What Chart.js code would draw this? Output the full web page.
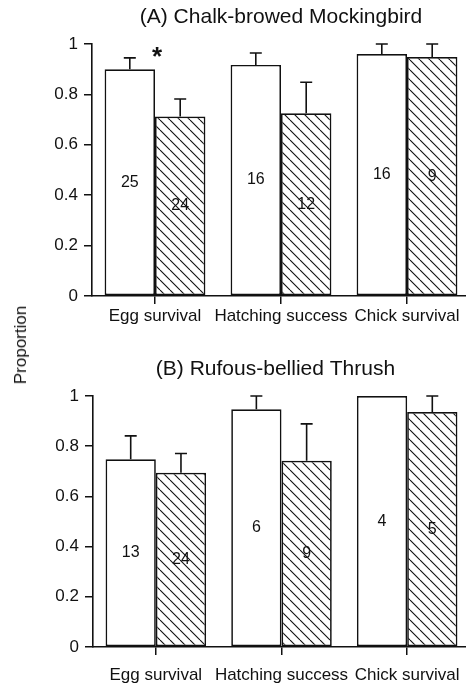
<!DOCTYPE html>
<html>
<head>
<meta charset="utf-8">
<script src="https://cdn.jsdelivr.net/npm/chart.js@4.4.1/dist/chart.umd.min.js"></script>
<style>
  html, body { margin: 0; padding: 0; background: #fff; }
  #wrap { position: relative; width: 466px; height: 686px; overflow: hidden; }
  canvas { position: absolute; left: 0; }
  #ylab {
    position: absolute; left: 21px; top: 345px;
    transform: translate(-50%, -50%) rotate(-90deg);
    font: 17px "Liberation Sans", Arial, sans-serif; color: #111; white-space: nowrap;
  }
</style>
</head>
<body>
<div id="wrap">
  <canvas id="chartA" width="470" height="330" style="top:0"></canvas>
  <canvas id="chartB" width="470" height="356" style="top:330px"></canvas>
  <div id="ylab">Proportion</div>
</div>
<script>
// categories and tick labels
const categories = ['Egg survival', 'Hatching success', 'Chick survival'];
const yTickLabels = ['0', '0.2', '0.4', '0.6', '0.8', '1'];

// (A) Chalk-browed Mockingbird
const titleA = '(A) Chalk-browed Mockingbird';
const mockOpen = [0.900, 0.917, 0.960];
const mockOpenErr = [0.945, 0.964, 1.000];
const mockOpenN = [25, 16, 16];
const mockHatch = [0.712, 0.725, 0.948];
const mockHatchErr = [0.782, 0.848, 1.000];
const mockHatchN = [24, 12, 9];
const mockSignif = ['*', '', ''];

// (B) Rufous-bellied Thrush
const titleB = '(B) Rufous-bellied Thrush';
const thrushOpen = [0.748, 0.947, 1.000];
const thrushOpenErr = [0.841, 1.000, 1.000];
const thrushOpenN = [13, 6, 4];
const thrushHatch = [0.694, 0.742, 0.936];
const thrushHatchErr = [0.771, 0.889, 1.000];
const thrushHatchN = [24, 9, 5];
const thrushSignif = ['', '', ''];

const FONT = '"Liberation Sans", Arial, sans-serif';

// diagonal hatch pattern ("\\\\")
function makeHatch() {
  const s = 10;
  const c = document.createElement('canvas');
  c.width = s; c.height = s;
  const g = c.getContext('2d');
  g.fillStyle = '#fff';
  g.fillRect(0, 0, s, s);
  g.strokeStyle = '#111';
  g.lineWidth = 1.1;
  g.beginPath();
  for (let k = -1; k <= 1; k++) {
    g.moveTo(k * s, 0);
    g.lineTo(k * s + s, s);
  }
  g.stroke();
  return g.createPattern(c, 'repeat');
}

// error bars, n labels, title and significance marks
const extrasPlugin = {
  id: 'extras',
  afterDatasetsDraw(chart) {
    const ctx = chart.ctx;
    const yScale = chart.scales.y;
    const xScale = chart.scales.x;
    const ex = chart.options.plugins.extras;
    ctx.save();
    chart.data.datasets.forEach((ds, di) => {
      const meta = chart.getDatasetMeta(di);
      meta.data.forEach((bar, i) => {
        const top = bar.y;
        const errY = yScale.getPixelForValue(ds.err[i]);
        if (ds.err[i] > ds.data[i]) {
          ctx.strokeStyle = '#111';
          ctx.lineWidth = 1.6;
          ctx.beginPath();
          ctx.moveTo(bar.x, top);
          ctx.lineTo(bar.x, errY);
          ctx.moveTo(bar.x - 6, errY);
          ctx.lineTo(bar.x + 6, errY);
          ctx.stroke();
        }
        // sample size in the middle of the bar
        ctx.fillStyle = '#111';
        ctx.font = '16px ' + FONT;
        ctx.textAlign = 'center';
        ctx.textBaseline = 'middle';
        ctx.fillText(String(ds.n[i]), bar.x, (top + bar.base) / 2);
      });
    });
    // significance marks
    ex.signif.forEach((s, i) => {
      if (!s) return;
      ctx.font = 'bold 26px ' + FONT;
      ctx.textAlign = 'center';
      ctx.textBaseline = 'alphabetic';
      ctx.fillText(s, xScale.getPixelForValue(i) + 2, yScale.getPixelForValue(0.97) + 13);
    });
    // panel title
    const ca = chart.chartArea;
    ctx.font = '21px ' + FONT;
    ctx.textAlign = 'center';
    ctx.textBaseline = 'middle';
    ctx.fillText(ex.title, (ca.left + ca.right) / 2 + ex.titleShift, ca.top - 27);
    ctx.restore();
  }
};

function makePanel(id, title, open, openErr, openN, hatch, hatchErr, hatchN, signif, cfg) {
  return new Chart(document.getElementById(id), {
    type: 'bar',
    data: {
      labels: categories,
      datasets: [
        {
          label: 'Open',
          data: open, err: openErr, n: openN,
          backgroundColor: '#fff',
          borderColor: '#111',
          borderWidth: 1.7,
          borderSkipped: false
        },
        {
          label: 'Hatched',
          data: hatch, err: hatchErr, n: hatchN,
          backgroundColor: makeHatch(),
          borderColor: '#111',
          borderWidth: 1.7,
          borderSkipped: false
        }
      ]
    },
    options: {
      responsive: false,
      animation: false,
      devicePixelRatio: 1,
      categoryPercentage: 0.8,
      barPercentage: 1.0,
      layout: { padding: { top: cfg.top, right: 0, left: 0, bottom: 0 } },
      plugins: {
        legend: { display: false },
        tooltip: { enabled: false },
        extras: { title: title, signif: signif, titleShift: cfg.titleShift }
      },
      scales: {
        x: {
          grid: { display: true, drawOnChartArea: false, offset: false, tickLength: 8, color: '#111', lineWidth: 1.5 },
          border: { display: true, color: '#111', width: 1.6 },
          ticks: { color: '#111', font: { family: FONT, size: 17 }, padding: cfg.xPad, maxRotation: 0, autoSkip: false },
          afterFit(scale) { scale.height = cfg.xHeight; }
        },
        y: {
          min: 0,
          max: 1,
          grid: { display: true, drawOnChartArea: false, tickLength: 8, color: '#111', lineWidth: 1.5 },
          border: { display: true, color: '#111', width: 1.6 },
          ticks: {
            stepSize: 0.2,
            color: '#111',
            font: { family: FONT, size: 17 },
            padding: 6,
            callback: (v, i) => yTickLabels[i]
          },
          afterFit(scale) { scale.width = cfg.yWidth; }
        }
      }
    },
    plugins: [extrasPlugin]
  });
}

makePanel('chartA', titleA, mockOpen, mockOpenErr, mockOpenN, mockHatch, mockHatchErr, mockHatchN, mockSignif,
  { top: 44, xHeight: 34, xPad: 2, yWidth: 92, titleShift: 0 });
makePanel('chartB', titleB, thrushOpen, thrushOpenErr, thrushOpenN, thrushHatch, thrushHatchErr, thrushHatchN, thrushSignif,
  { top: 66, xHeight: 39, xPad: 10, yWidth: 93, titleShift: -6 });
</script>
</body>
</html>
